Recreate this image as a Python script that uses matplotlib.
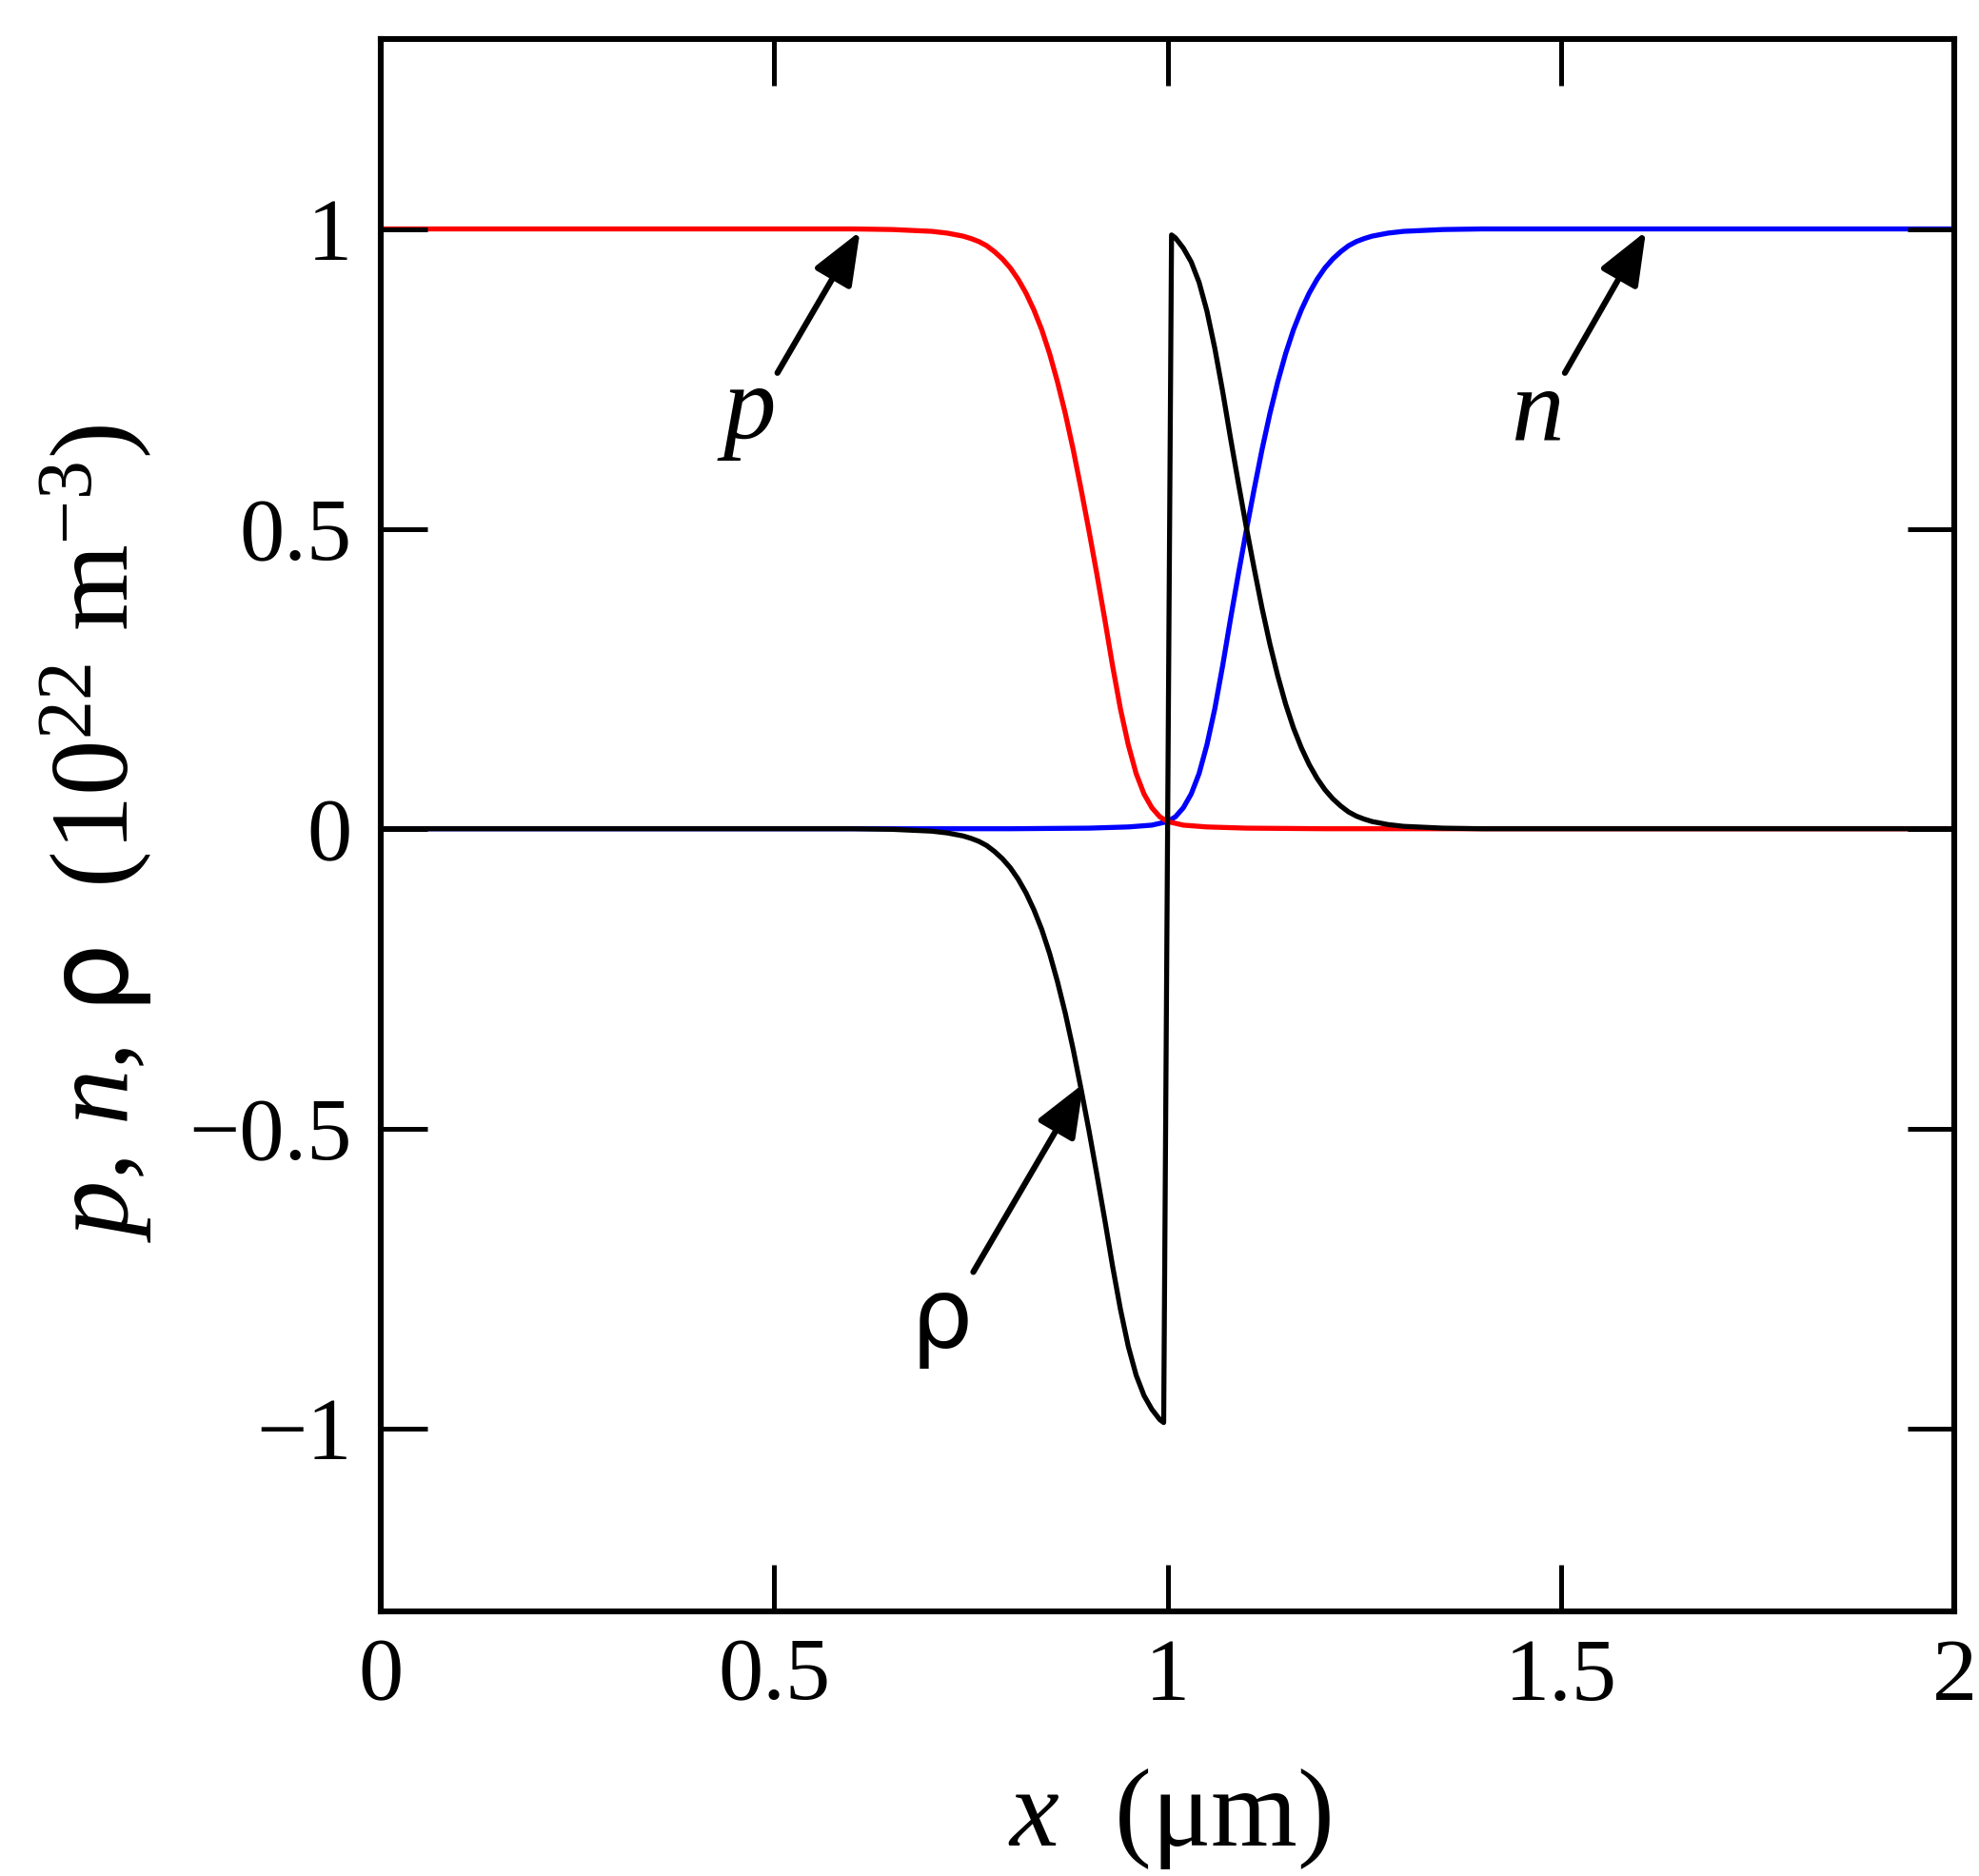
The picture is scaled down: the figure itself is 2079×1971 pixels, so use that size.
import matplotlib
matplotlib.use("Agg")
import matplotlib.pyplot as plt

plt.rcParams['font.family'] = 'Liberation Serif'
plt.rcParams['mathtext.fontset'] = 'custom'
plt.rcParams['mathtext.rm'] = 'Liberation Serif'
plt.rcParams['mathtext.it'] = 'Liberation Serif:italic'
plt.rcParams['mathtext.sf'] = 'DejaVu Sans'

# hole density p (10^22 m^-3)
x_p = [0.0, 0.50, 0.60, 0.65, 0.70, 0.72, 0.74, 0.75, 0.76, 0.77, 0.78, 0.79,
       0.80, 0.81, 0.82, 0.83, 0.84, 0.85, 0.86, 0.87, 0.88, 0.89, 0.90, 0.91,
       0.92, 0.93, 0.94, 0.95, 0.96, 0.97, 0.98, 0.99, 1.00, 1.02, 1.05, 1.10,
       1.20, 2.0]
p = [1.0, 1.0, 1.0, 0.999, 0.996, 0.993, 0.988, 0.984, 0.979, 0.972, 0.962, 0.950,
     0.935, 0.916, 0.893, 0.865, 0.832, 0.792, 0.745, 0.692, 0.632, 0.566, 0.497, 0.425,
     0.350, 0.272, 0.200, 0.140, 0.092, 0.058, 0.035, 0.020, 0.012, 0.006, 0.003, 0.001,
     0.0, 0.0]

# electron density n
x_n = [0.0, 0.80, 0.90, 0.95, 0.98, 1.00, 1.01, 1.02, 1.03, 1.04, 1.05, 1.06,
       1.07, 1.08, 1.09, 1.10, 1.11, 1.12, 1.13, 1.14, 1.15, 1.16, 1.17, 1.18,
       1.19, 1.20, 1.21, 1.22, 1.23, 1.24, 1.25, 1.26, 1.28, 1.30, 1.35, 1.40,
       1.50, 2.0]
n = [0.0, 0.0, 0.001, 0.003, 0.006, 0.012, 0.020, 0.035, 0.058, 0.092, 0.140, 0.200,
     0.272, 0.350, 0.425, 0.497, 0.566, 0.632, 0.692, 0.745, 0.792, 0.832, 0.865, 0.893,
     0.916, 0.935, 0.950, 0.962, 0.972, 0.979, 0.984, 0.988, 0.993, 0.996, 0.999, 1.0,
     1.0, 1.0]

# charge density rho
x_rho = [0.0, 0.60, 0.65, 0.70, 0.72, 0.74, 0.75, 0.76, 0.77, 0.78, 0.79, 0.80,
         0.81, 0.82, 0.83, 0.84, 0.85, 0.86, 0.87, 0.88, 0.89, 0.90, 0.91, 0.92,
         0.93, 0.94, 0.95, 0.96, 0.97, 0.98, 0.99, 0.995,
         1.005, 1.01, 1.02, 1.03, 1.04, 1.05, 1.06, 1.07, 1.08, 1.09, 1.10, 1.11,
         1.12, 1.13, 1.14, 1.15, 1.16, 1.17, 1.18, 1.19, 1.20, 1.21, 1.22, 1.23,
         1.24, 1.25, 1.26, 1.28, 1.30, 1.35, 1.40, 2.0]
rho = [0.0, 0.0, -0.001, -0.004, -0.007, -0.012, -0.016, -0.021, -0.028, -0.038, -0.050, -0.065,
       -0.084, -0.107, -0.135, -0.168, -0.208, -0.255, -0.308, -0.368, -0.434, -0.503, -0.576, -0.651,
       -0.729, -0.801, -0.863, -0.911, -0.945, -0.968, -0.985, -0.99,
       0.99, 0.985, 0.968, 0.945, 0.911, 0.863, 0.801, 0.729, 0.651, 0.576, 0.503, 0.434,
       0.368, 0.308, 0.255, 0.208, 0.168, 0.135, 0.107, 0.084, 0.065, 0.050, 0.038, 0.028,
       0.021, 0.016, 0.012, 0.007, 0.004, 0.001, 0.0, 0.0]

x_ticks = [0, 0.5, 1, 1.5, 2]
y_ticks = [-1, -0.5, 0, 0.5, 1]

fig = plt.figure(figsize=(20.79, 19.71), dpi=100)
ax = fig.add_axes([0.1925, 0.141, 0.795, 0.838])

ax.plot(x_n, n, color='blue', lw=3.8)
ax.plot(x_p, p, color='red', lw=3.8)
ax.plot(x_rho, rho, color='black', lw=3.8)

ax.set_xlim(0, 2)
ax.set_ylim(-1.305, 1.316)
ax.set_xticks(x_ticks)
ax.set_yticks(y_ticks)
ax.set_xticklabels([f'{v:g}'.replace('-', '\u2212') for v in x_ticks])
ax.set_yticklabels([f'{v:g}'.replace('-', '\u2212') for v in y_ticks])
ax.set_axisbelow(False)
ax.tick_params(direction='in', length=35, width=3.6, top=True, right=True, labelsize=68)
ax.tick_params(axis='x', pad=20)
ax.tick_params(axis='y', pad=22)
for s in ax.spines.values():
    s.set_linewidth(4.4)

ax.set_xlabel(r'$x$  (μm)', fontsize=84, va='center')
ax.xaxis.set_label_coords(0.501, -0.132)
ax.set_ylabel(r'$p$, $n$, $\mathsf{ρ}$  (10$^{22}$ m$^{-3}$)', fontsize=84, va='center')
ax.yaxis.set_label_coords(-0.181, 0.495)

arrow = dict(arrowstyle='-|>,head_length=0.5,head_width=0.2', color='black',
             lw=4.5, mutation_scale=68, shrinkA=0, shrinkB=0)
ax.annotate('', xy=(0.609, 0.996), xytext=(0.504, 0.76), arrowprops=arrow)
ax.annotate('', xy=(1.608, 0.996), xytext=(1.505, 0.76), arrowprops=arrow)
ax.annotate('', xy=(0.893, -0.425), xytext=(0.753, -0.739), arrowprops=arrow)

ax.text(0.464, 0.69, '$p$', fontsize=80, ha='center', va='center')
ax.text(1.468, 0.69, '$n$', fontsize=80, ha='center', va='center')
ax.text(0.713, -0.82, 'ρ', fontsize=74, ha='center', va='center', family='DejaVu Sans')

fig.savefig('out.png', dpi=100)
